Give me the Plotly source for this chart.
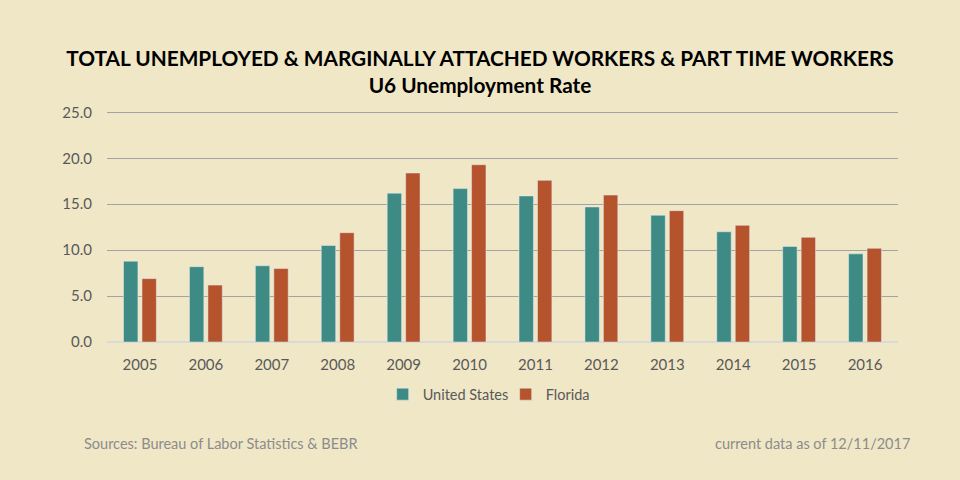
import plotly.graph_objects as go

years = ["2005", "2006", "2007", "2008", "2009", "2010", "2011", "2012", "2013", "2014", "2015", "2016"]
us_values = [8.8, 8.2, 8.3, 10.5, 16.2, 16.7, 15.9, 14.7, 13.8, 12.0, 10.4, 9.6]
fl_values = [6.9, 6.2, 8.0, 11.9, 18.4, 19.3, 17.6, 16.0, 14.3, 12.7, 11.4, 10.2]
y_ticks = [0, 5, 10, 15, 20, 25]
y_tick_labels = ["0.0", "5.0", "10.0", "15.0", "20.0", "25.0"]

BG = "#f0e7c6"
FONT = "Lato"

fig = go.Figure()
fig.add_trace(go.Bar(name="United States", x=years, y=us_values, marker_color="#3e8a84"))
fig.add_trace(go.Bar(name="Florida", x=years, y=fl_values, marker_color="#b5532d"))

fig.update_layout(
    width=960, height=480,
    paper_bgcolor=BG, plot_bgcolor=BG,
    margin=dict(l=107, r=62, t=111, b=138),
    barmode="group", bargap=0.44, bargroupgap=0.22,
    font=dict(family=FONT, color="#595959", size=15),
    title=dict(
        text="<b>TOTAL UNEMPLOYED &amp; MARGINALLY ATTACHED WORKERS &amp; PART TIME WORKERS</b><br><b>U6 Unemployment Rate</b>",
        x=0.5, xanchor="center", y=0.8625, yanchor="middle",
        font=dict(family=FONT, size=20.8, color="#000000"),
    ),
    xaxis=dict(showgrid=False, showline=False, ticks="", ticklabelstandoff=12,
               tickfont=dict(size=15, color="#595959")),
    yaxis=dict(range=[0, 25.15], tickvals=y_ticks, ticktext=y_tick_labels, showgrid=True,
               gridcolor="#a3a3a3", gridwidth=1, zeroline=True, zerolinecolor="#d9d9d9", zerolinewidth=1.5,
               ticks="", ticklabelstandoff=14, tickfont=dict(size=15, color="#595959")),
    legend=dict(orientation="h", x=0.504, xanchor="center", y=-0.226, yanchor="middle",
                font=dict(size=14.5, color="#595959"), itemwidth=30, traceorder="normal",
                entrywidth=78, entrywidthmode="pixels"),
    showlegend=True,
)

fig.add_annotation(text="Sources: Bureau of Labor Statistics &amp; BEBR", xref="paper", yref="paper",
                   x=-0.0316, xanchor="left", y=-0.439, yanchor="middle", showarrow=False,
                   font=dict(family=FONT, size=14.5, color="#8c8c8c"))
fig.add_annotation(text="current data as of 12/11/2017", xref="paper", yref="paper",
                   x=1.0177, xanchor="right", y=-0.439, yanchor="middle", showarrow=False,
                   font=dict(family=FONT, size=14.5, color="#8c8c8c"))

fig.write_html("out.html", config={"displayModeBar": False},
               post_script="document.body.style.margin='0';document.body.style.padding='0';")
